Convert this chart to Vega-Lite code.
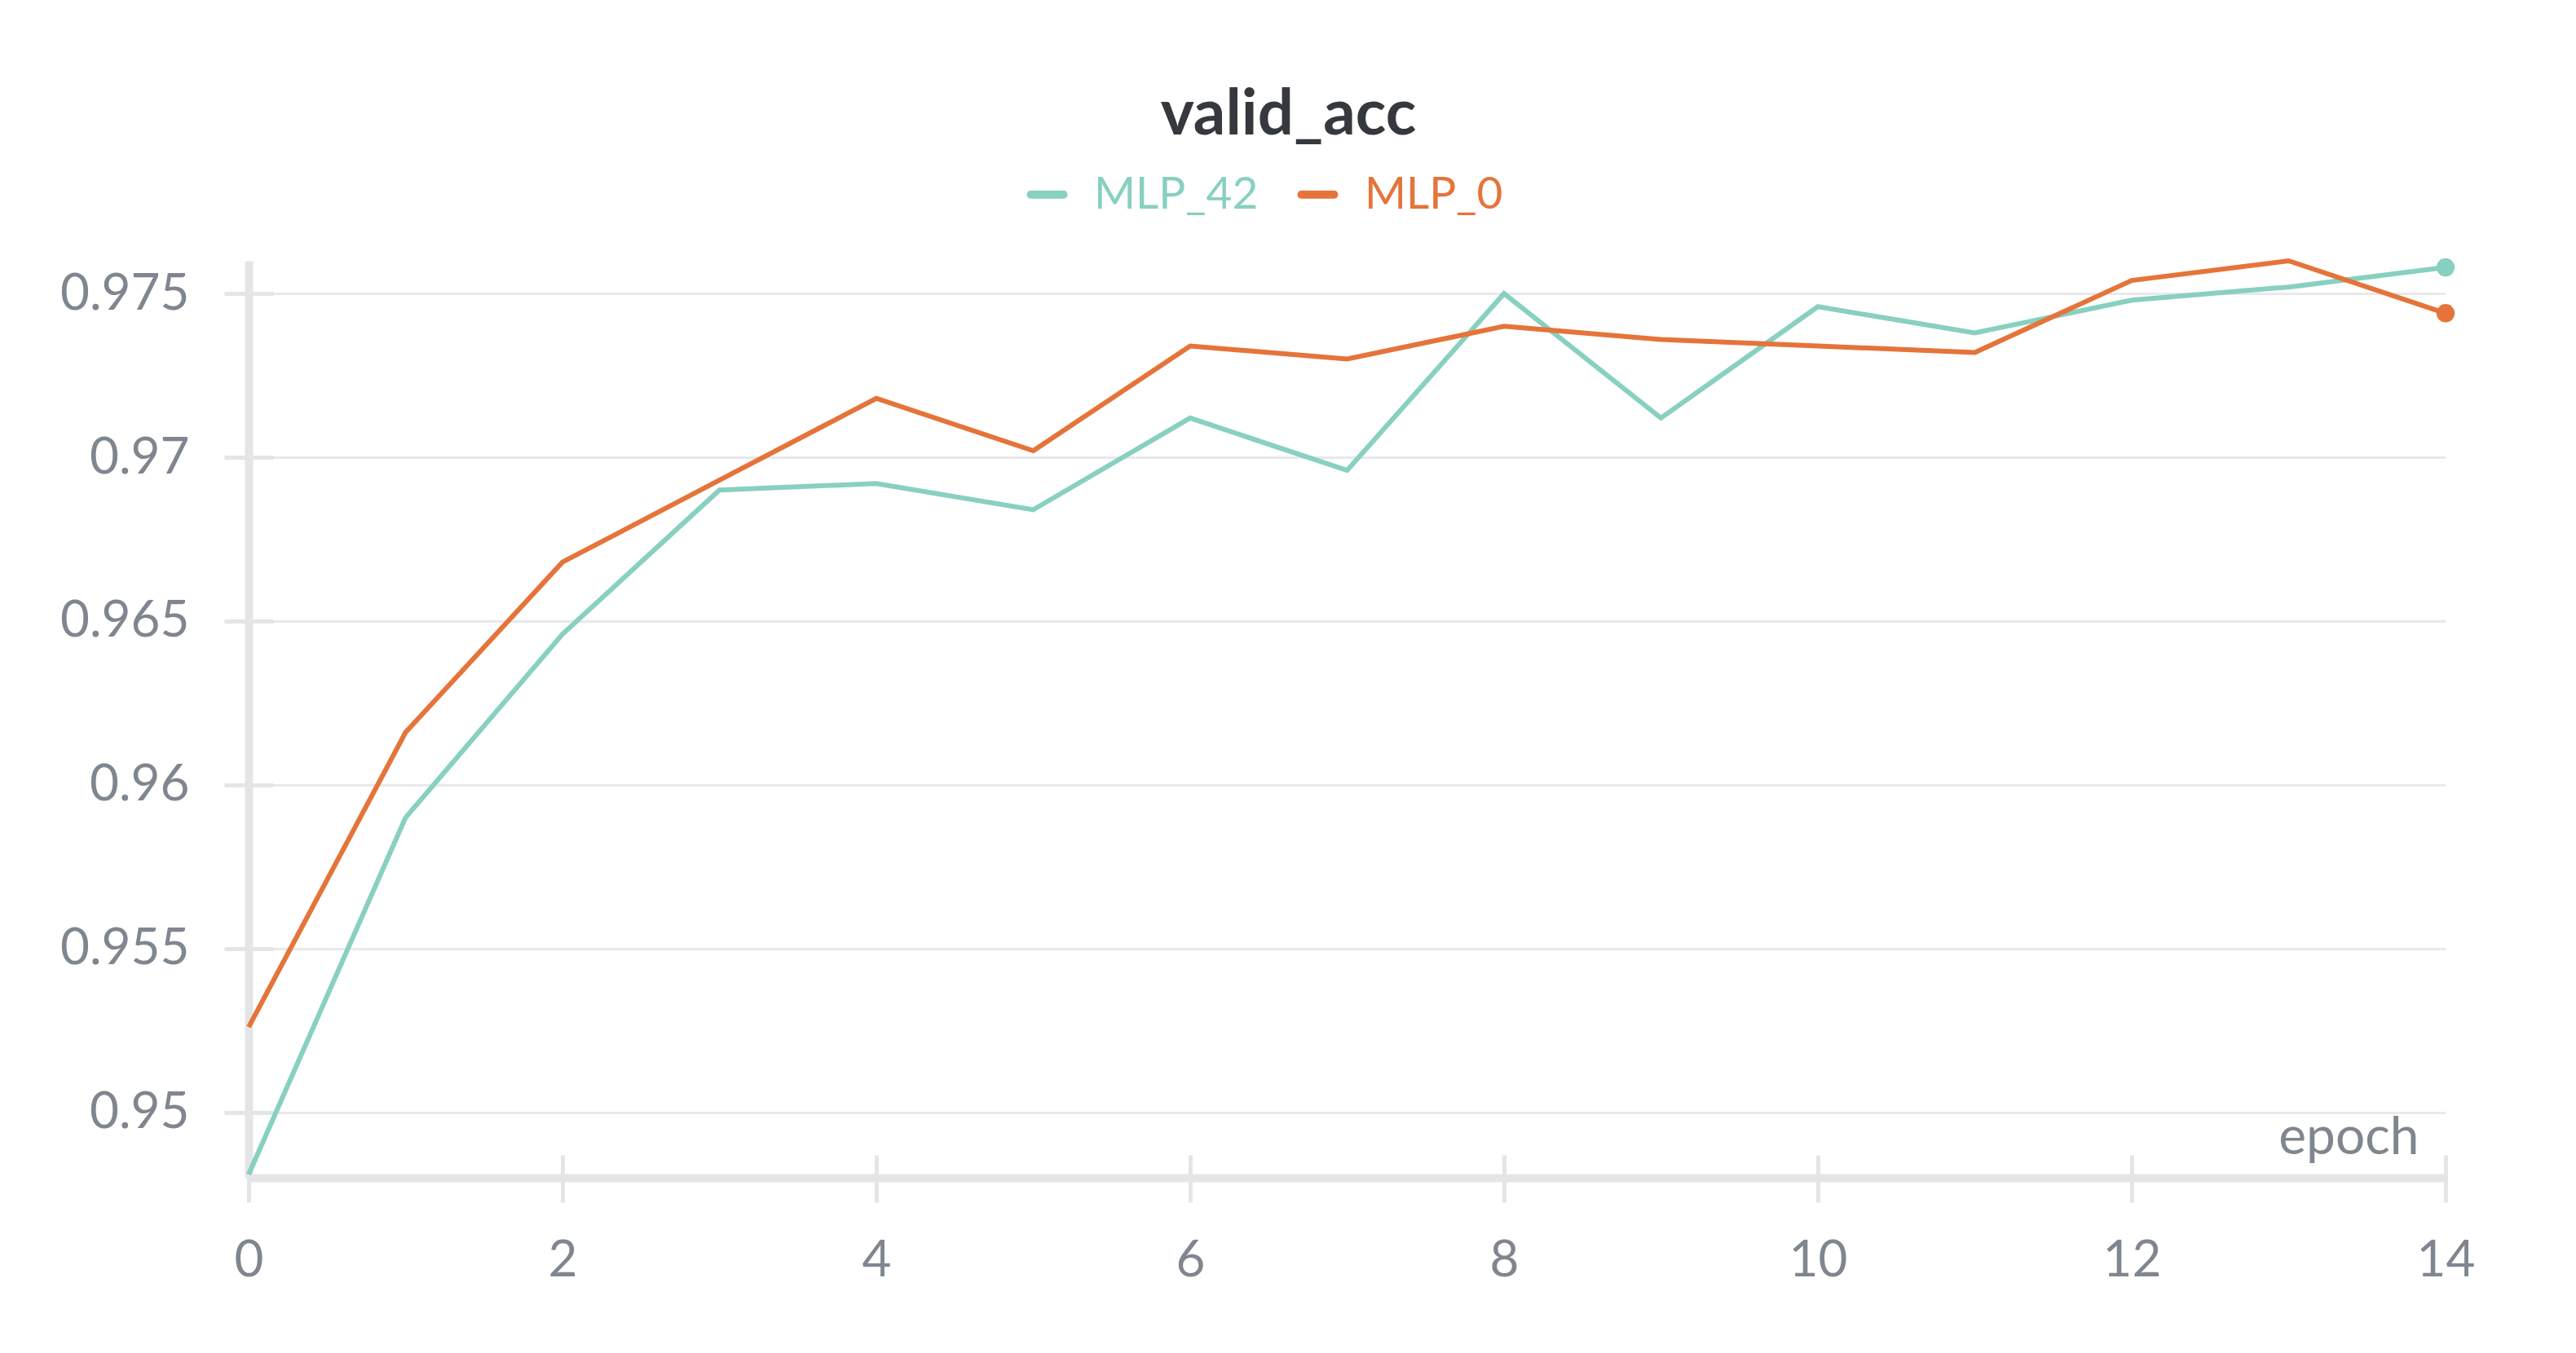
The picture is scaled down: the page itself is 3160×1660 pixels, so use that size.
{
  "$schema": "https://vega.github.io/schema/vega-lite/v6.json",
  "width": 2695,
  "height": 1125,
  "autosize": "none",
  "padding": {"left": 305, "top": 320, "right": 160, "bottom": 215},
  "background": "white",
  "config": {
    "font": "Lato",
    "view": {"stroke": null}
  },
  "title": {
    "text": "valid_acc",
    "fontSize": 78,
    "fontWeight": "bold",
    "color": "#35393d",
    "anchor": "middle",
    "dx": -72,
    "offset": 30
  },
  "data": {
    "values": [
      {"epoch": 0, "run": "MLP_42", "acc": 0.9481},
      {"epoch": 1, "run": "MLP_42", "acc": 0.9590},
      {"epoch": 2, "run": "MLP_42", "acc": 0.9646},
      {"epoch": 3, "run": "MLP_42", "acc": 0.9690},
      {"epoch": 4, "run": "MLP_42", "acc": 0.9692},
      {"epoch": 5, "run": "MLP_42", "acc": 0.9684},
      {"epoch": 6, "run": "MLP_42", "acc": 0.9712},
      {"epoch": 7, "run": "MLP_42", "acc": 0.9696},
      {"epoch": 8, "run": "MLP_42", "acc": 0.9750},
      {"epoch": 9, "run": "MLP_42", "acc": 0.9712},
      {"epoch": 10, "run": "MLP_42", "acc": 0.9746},
      {"epoch": 11, "run": "MLP_42", "acc": 0.9738},
      {"epoch": 12, "run": "MLP_42", "acc": 0.9748},
      {"epoch": 13, "run": "MLP_42", "acc": 0.9752},
      {"epoch": 14, "run": "MLP_42", "acc": 0.9758},
      {"epoch": 0, "run": "MLP_0", "acc": 0.9526},
      {"epoch": 1, "run": "MLP_0", "acc": 0.9616},
      {"epoch": 2, "run": "MLP_0", "acc": 0.9668},
      {"epoch": 3, "run": "MLP_0", "acc": 0.9693},
      {"epoch": 4, "run": "MLP_0", "acc": 0.9718},
      {"epoch": 5, "run": "MLP_0", "acc": 0.9702},
      {"epoch": 6, "run": "MLP_0", "acc": 0.9734},
      {"epoch": 7, "run": "MLP_0", "acc": 0.9730},
      {"epoch": 8, "run": "MLP_0", "acc": 0.9740},
      {"epoch": 9, "run": "MLP_0", "acc": 0.9736},
      {"epoch": 10, "run": "MLP_0", "acc": 0.9734},
      {"epoch": 11, "run": "MLP_0", "acc": 0.9732},
      {"epoch": 12, "run": "MLP_0", "acc": 0.9754},
      {"epoch": 13, "run": "MLP_0", "acc": 0.9760},
      {"epoch": 14, "run": "MLP_0", "acc": 0.9744}
    ]
  },
  "encoding": {
    "color": {
      "field": "run",
      "type": "nominal",
      "scale": {"domain": ["MLP_42", "MLP_0"], "range": ["#88d0c0", "#e5743a"]},
      "legend": {
        "title": null,
        "orient": "none",
        "legendX": 952,
        "legendY": -109,
        "direction": "horizontal",
        "padding": 0,
        "symbolType": "stroke",
        "symbolSize": 1600,
        "symbolStrokeWidth": 10,
        "symbolOpacity": 1,
        "labelFontSize": 55,
        "labelLimit": 0,
        "labelOffset": 30,
        "columnPadding": 32,
        "labelBaseline": "middle",
        "encode": {
          "labels": {"update": {"fill": {"scale": "color", "field": "value"}}},
          "symbols": {"update": {"strokeCap": {"value": "round"}}}
        }
      }
    }
  },
  "layer": [
    {
      "mark": {"type": "line", "strokeWidth": 6},
      "encoding": {
        "x": {
          "field": "epoch",
          "type": "quantitative",
          "scale": {"domain": [0, 14], "nice": false, "zero": false},
          "axis": {
            "orient": "bottom",
            "values": [0, 2, 4, 6, 8, 10, 12, 14],
            "title": "epoch",
            "titleX": 2662,
            "titleY": -30,
            "titleAlign": "right",
            "titleBaseline": "alphabetic",
            "titleFontSize": 64,
            "titleFontWeight": "normal",
            "titleColor": "#80868f",
            "domain": true,
            "domainColor": "#e4e5e7",
            "domainWidth": 10,
            "ticks": false,
            "grid": false,
            "labelFontSize": 62,
            "labelColor": "#80868f",
            "labelPadding": 120,
            "labelBaseline": "alphabetic",
            "labelFlush": false
          }
        },
        "y": {
          "field": "acc",
          "type": "quantitative",
          "scale": {"domain": [0.948, 0.976], "nice": false, "zero": false},
          "axis": {
            "orient": "left",
            "values": [0.95, 0.955, 0.96, 0.965, 0.97, 0.975],
            "format": "~g",
            "title": null,
            "domain": true,
            "domainColor": "#e4e5e7",
            "domainWidth": 10,
            "ticks": false,
            "grid": true,
            "gridColor": "#e9e9eb",
            "gridWidth": 3,
            "labelFontSize": 62,
            "labelColor": "#80868f",
            "labelPadding": 73,
            "labelBaseline": "middle",
            "labelFlush": false
          }
        }
      }
    },
    {
      "transform": [{"filter": "datum.epoch == 14"}],
      "mark": {"type": "point", "filled": true, "size": 500, "opacity": 1},
      "encoding": {
        "x": {
          "field": "epoch",
          "type": "quantitative",
          "axis": {
            "orient": "bottom",
            "offset": -28,
            "values": [0, 2, 4, 6, 8, 10, 12, 14],
            "title": null,
            "domain": false,
            "labels": false,
            "grid": false,
            "ticks": true,
            "tickSize": 58,
            "tickWidth": 5,
            "tickColor": "#e4e5e7"
          }
        },
        "y": {
          "field": "acc",
          "type": "quantitative",
          "axis": {
            "orient": "left",
            "offset": -30,
            "values": [0.95, 0.955, 0.96, 0.965, 0.97, 0.975],
            "title": null,
            "domain": false,
            "labels": false,
            "grid": false,
            "ticks": true,
            "tickSize": 60,
            "tickWidth": 5,
            "tickColor": "#e4e5e7"
          }
        }
      }
    }
  ],
  "resolve": {"axis": {"x": "independent", "y": "independent"}}
}
